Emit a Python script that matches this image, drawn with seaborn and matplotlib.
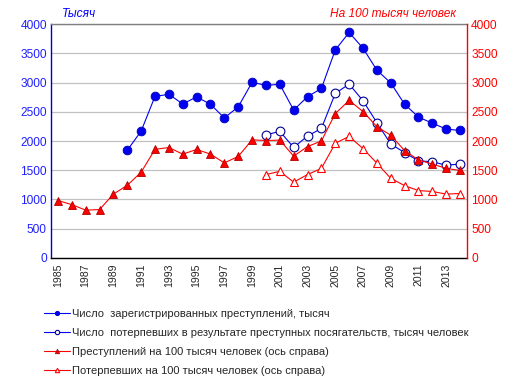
import numpy as np
import matplotlib
matplotlib.use("Agg")
import matplotlib.pyplot as plt
import seaborn as sns

# Data
years = list(range(1985, 2015))
crimes_thousand = [np.nan, np.nan, np.nan, np.nan, np.nan,
                   1840, 2170, 2765, 2800, 2635, 2755, 2630, 2395, 2585, 3005,
                   2955, 2970, 2530, 2760, 2900, 3560, 3860, 3590, 3215, 2995,
                   2630, 2410, 2305, 2205, 2180]
victims_thousand = [np.nan] * 15 + [2105, 2165, 1890, 2085, 2215, 2815, 2975, 2690,
                                    2315, 1950, 1800, 1660, 1645, 1585, 1605]
crimes_per100k = [980, 910, 815, 825, 1090, 1240, 1465, 1857, 1888, 1775,
                  1855, 1775, 1625, 1735, 2020, 2008, 2015, 1740, 1905, 2000,
                  2470, 2695, 2505, 2245, 2100, 1835, 1675, 1605, 1530, 1495]
victims_per100k = [np.nan] * 15 + [1425, 1480, 1295, 1425, 1530, 1960, 2080, 1870,
                                   1620, 1360, 1235, 1150, 1135, 1090, 1100]
tick_years = list(range(1985, 2014, 2))
labels = ["Число  зарегистрированных преступлений, тысяч",
          "Число  потерпевших в результате преступных посягательств, тысяч человек",
          "Преступлений на 100 тысяч человек (ось справа)",
          "Потерпевших на 100 тысяч человек (ось справа)"]

sns.set_style("white")
plt.rcParams['font.family'] = ['Liberation Sans', 'DejaVu Sans']

fig = plt.figure(figsize=(5.19, 3.90), dpi=100)
ax = fig.add_axes([51 / 519, 1 - 257.7 / 390, 416 / 519, 233.4 / 390])
ax2 = ax.twinx()

blue = "#0000ee"
red = "#ff0000"

sns.lineplot(x=years, y=crimes_thousand, ax=ax, color=blue, lw=0.8,
             marker="o", markersize=6.3, markerfacecolor=blue, markeredgecolor="#0000bb",
             markeredgewidth=0.6)
sns.lineplot(x=years, y=victims_thousand, ax=ax, color=blue, lw=0.8,
             marker="o", markersize=6.3, markerfacecolor="white", markeredgecolor="#000090",
             markeredgewidth=0.8)
sns.lineplot(x=years, y=crimes_per100k, ax=ax2, color=red, lw=0.8,
             marker="^", markersize=6.3, markerfacecolor=red, markeredgecolor="#b00000",
             markeredgewidth=0.6)
sns.lineplot(x=years, y=victims_per100k, ax=ax2, color=red, lw=0.8,
             marker="^", markersize=6.3, markerfacecolor="white", markeredgecolor=red,
             markeredgewidth=0.8)

for a in (ax, ax2):
    a.set_ylim(0, 4000)
    a.set_yticks(np.arange(0, 4001, 500))
    a.set_xlim(1984.5, 2014.5)
    a.tick_params(axis="both", length=0, labelsize=8.6, pad=3)
    a.set_ylabel("")

ax.yaxis.grid(True, color="#c0c0c0", lw=0.9)
ax.set_axisbelow(True)
ax.set_xticks(tick_years)
ax.set_xticklabels([str(y) for y in tick_years], rotation=90, fontsize=7.6)
ax.tick_params(axis="x", pad=4)
ax.tick_params(axis="y", labelcolor="#2020ff")
ax2.tick_params(axis="y", labelcolor=red)

ax.spines["left"].set_color("#0000cc")
ax.spines["bottom"].set_color("black")
ax.spines["top"].set_color("#808080")
ax.spines["right"].set_visible(False)
ax2.spines["right"].set_color(red)
ax2.spines["left"].set_visible(False)
ax2.spines["top"].set_visible(False)
ax2.spines["bottom"].set_visible(False)
for s in ("left", "bottom", "top"):
    ax.spines[s].set_linewidth(1.0)
ax2.spines["right"].set_linewidth(1.0)

fig.text(62 / 519, 1 - 14 / 390, "Тысяч", color="#0000ff", style="italic",
         fontsize=8.6, va="center", ha="left")
fig.text(456 / 519, 1 - 14 / 390, "На 100 тысяч человек", color=red, style="italic",
         fontsize=8.6, va="center", ha="right")

handles = ax.lines[:2] + ax2.lines[:2]
fig.legend(handles, labels, loc="upper left", bbox_to_anchor=(44 / 519, 1 - 309 / 390),
           frameon=False, fontsize=8.0, markerscale=0.5, handlelength=2.35,
           handletextpad=0.2, labelspacing=0.8, borderpad=0, borderaxespad=0)

fig.savefig("out.png", dpi=100)
